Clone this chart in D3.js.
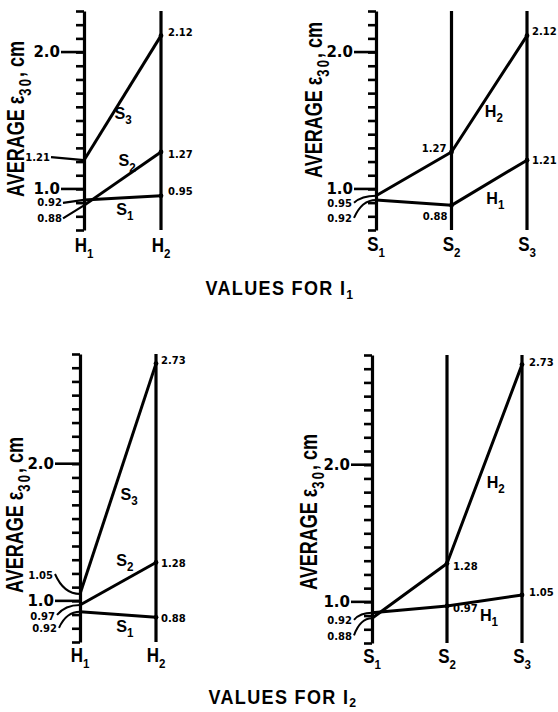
<!DOCTYPE html>
<html><head><meta charset="utf-8">
<script src="https://cdn.jsdelivr.net/npm/d3@7"></script>
<style>body{margin:0;background:#fff}svg{display:block}</style>
</head><body><svg id="c" width="558" height="712"></svg>
<script>
// ---------------- DATA ----------------
const hLevels = ["H1", "H2"];
const sLevels = ["S1", "S2", "S3"];
// values for I1 (each S series across H1, H2)
const i1_S1 = [0.92, 0.95];
const i1_S2 = [0.88, 1.27];
const i1_S3 = [1.21, 2.12];
// values for I2
const i2_S1 = [0.92, 0.88];
const i2_S2 = [0.97, 1.28];
const i2_S3 = [1.05, 2.73];
const majorTicks = [1.0, 2.0];
const groupTitles = ["I1", "I2"];
const yTitleMain = "AVERAGE";
const yTitleSym = "ε";
const yTitleSub = "30";
const yTitleUnit = "cm";

// ---------------- helpers ----------------
const svg = d3.select("#c");
const FONT = "'Liberation Sans', Arial, sans-serif";
const NUMFONT = "'DejaVu Sans', sans-serif";
const fmt2 = d3.format(".2f"), fmt1 = d3.format(".1f");
const transpose = m => m[0].map((_, j) => m.map(r => r[j]));
const parts = name => [{t: name[0]}, {t: name.slice(1), sub: true}];

function rich(parent, x, y, ps, o) {
  const size = o.size, sx = o.sx || 1;
  const g = parent.append("g")
    .attr("transform", `translate(${x},${y}) rotate(${o.rotate || 0}) scale(${sx},1)`);
  const t = g.append("text").attr("font-family", o.family || FONT)
    .attr("font-weight", "bold").attr("font-size", size).attr("fill", "#000");
  if (o.ls) t.attr("letter-spacing", o.ls);
  const drop = size * (o.subDrop || 0.3);
  let sub = false;
  ps.forEach(p => {
    const ts = t.append("tspan").text(p.t);
    if (p.ls != null) ts.attr("letter-spacing", p.ls);
    if (p.sub) {
      ts.attr("font-size", size * (o.subScale || 0.68));
      if (!sub) ts.attr("dy", drop);
      sub = true;
    } else if (sub) { ts.attr("dy", -drop); sub = false; }
  });
  const w = t.node().getComputedTextLength();
  if (o.anchor === "middle") t.attr("x", -w / 2);
  else if (o.anchor === "end") t.attr("x", -w);
  return w * sx;
}

// ---------------- panel layouts ----------------
const panels = [
  { cats: hLevels, names: sLevels, series: [i1_S1, i1_S2, i1_S3],
    xr: [84, 161], domain: [0.7, 2.3], range: [230, 11], majorDx: -24, majorSize: 15,
    title: {x: 24, y: 197},
    catY: 252,
    labels: [ // [series, cat, dx, dy, leader]
      [2, 0, -34, -3, "line"], [0, 0, -22, 3, "line"], [1, 0, -22, 13, "line"],
      [2, 1, 7, -3, null], [1, 1, 7, 2, null], [0, 1, 7, -4, null]],
    names_pos: [[0, 0.53, 0, 11], [1, 0.56, 0, -15], [2, 0.47, 3, 11]] },
  { cats: sLevels, names: hLevels, series: transpose([i1_S1, i1_S2, i1_S3]),
    xr: [376, 527], domain: [0.7, 2.3], range: [230, 11], majorDx: -23, majorSize: 15,
    title: {x: 322, y: 178},
    catY: 251,
    labels: [
      [1, 0, -24, 8, "curve"], [0, 0, -24, 19, "curve"],
      [1, 1, -5, -4, null], [0, 1, -4, 11, null],
      [1, 2, 5, -4, null], [0, 2, 5, 0, null]],
    names_pos: [[0, 1.58, 0, 19], [1, 1.35, 16, 0]] },
  { cats: hLevels, names: sLevels, series: [i2_S1, i2_S2, i2_S3],
    xr: [80, 156], domain: [0.7, 2.8], range: [642, 354], majorDx: -26, majorSize: 15,
    title: {x: 23, y: 593},
    catY: 662,
    labels: [
      [2, 0, -27, -19, "curve"], [1, 0, -25, 11, "curve"], [0, 0, -23, 17, "curve"],
      [2, 1, 5, -3, null], [1, 1, 5, 1, null], [0, 1, 5, 1, null]],
    names_pos: [[0, 0.59, 0, 11], [1, 0.59, 0, -20], [2, 0.436, 16, 0]] },
  { cats: sLevels, names: hLevels, series: transpose([i2_S1, i2_S2, i2_S3]),
    xr: [372, 522], domain: [0.7, 2.8], range: [643, 355], majorDx: -22, majorSize: 15,
    title: {x: 317, y: 590},
    catY: 663,
    labels: [
      [0, 0, -20, 8, "curve"], [1, 0, -20, 18, "curve"],
      [1, 1, 6, 3, null], [0, 1, 6, 2, null],
      [1, 2, 7, -2, null], [0, 2, 7, -3, null]],
    names_pos: [[0, 1.56, 0, 15], [1, 1.41, 18, 0]] }
];

function drawPanel(p) {
  const g = svg.append("g");
  const x = d3.scalePoint().domain(p.cats).range(p.xr);
  const y = d3.scaleLinear().domain(p.domain).range(p.range);
  const x0 = x(p.cats[0]);

  // left axis with minor ticks every 0.1
  const tv = d3.range(Math.round(p.domain[0] * 10), Math.round(p.domain[1] * 10) + 1).map(d => d / 10);
  const ax = d3.axisLeft(y).tickValues(tv).tickSize(8).tickSizeOuter(0).tickFormat("");
  const axg = g.append("g").attr("transform", `translate(${x0},0)`).call(ax);
  axg.select(".domain").attr("stroke", "#000").attr("stroke-width", 3.2);
  axg.selectAll(".tick line").attr("stroke", "#000").attr("stroke-width", 2.6);

  // other vertical axes
  p.cats.slice(1).forEach(c => g.append("line")
    .attr("x1", x(c)).attr("x2", x(c)).attr("y1", y(p.domain[0])).attr("y2", y(p.domain[1]))
    .attr("stroke", "#000").attr("stroke-width", 3.2));

  // major tick labels with long ticks
  majorTicks.forEach(v => {
    rich(g, x0 + p.majorDx, y(v) + p.majorSize * 0.36, [{t: fmt1(v)}],
      {size: p.majorSize, family: NUMFONT, anchor: "end"});
    g.append("line").attr("x1", x0 + p.majorDx + 1).attr("x2", x0).attr("y1", y(v)).attr("y2", y(v))
      .attr("stroke", "#000").attr("stroke-width", 2.6);
  });

  // series lines
  const line = d3.line().x((d, i) => x(p.cats[i])).y(d => y(d));
  p.series.forEach(s => g.append("path").attr("d", line(s)).attr("fill", "none")
    .attr("stroke", "#000").attr("stroke-width", 3).attr("stroke-linejoin", "round"));
  p.series.forEach(s => s.forEach((v, i) => {
    if (i > 0) g.append("circle").attr("cx", x(p.cats[i])).attr("cy", y(v)).attr("r", 2.4).attr("fill", "#000");
  }));

  // value labels
  const vs = 10;
  p.labels.forEach(([si, ci, dx, dy, leader]) => {
    const v = p.series[si][ci];
    const px = x(p.cats[ci]), py = y(v);
    const lx = px + dx, ly = py + dy;
    const anchor = dx < 0 ? "end" : "start";
    rich(g, lx, ly + vs * 0.36, [{t: fmt2(v)}], {size: vs, family: NUMFONT, anchor});
    if (leader === "line") {
      g.append("line").attr("x1", lx + 1).attr("y1", ly).attr("x2", px).attr("y2", py)
        .attr("stroke", "#000").attr("stroke-width", 2.2);
    } else if (leader === "curve") {
      const sx = lx + 2, sy = ly - 1;
      g.append("path").attr("d", `M${sx},${sy} Q${sx + (px - sx) * 0.35},${py} ${px},${py}`)
        .attr("fill", "none").attr("stroke", "#000").attr("stroke-width", 2);
    }
  });

  // series name labels placed along segments
  p.names_pos.forEach(([si, t, dx, dy]) => {
    const s = p.series[si];
    const k = Math.floor(t), f = t - k;
    const lx = x(p.cats[k]) + f * (x(p.cats[k + 1]) - x(p.cats[k]));
    const ly = y(s[k]) + f * (y(s[k + 1]) - y(s[k]));
    rich(g, lx + dx, ly + dy + 6, parts(p.names[si]), {size: 17, anchor: "middle", sx: 0.95, subScale: 0.72});
  });

  // category labels
  p.cats.forEach(c => rich(g, x(c), p.catY, parts(c), {size: 20, anchor: "middle", sx: 0.85}));

  // y-axis title
  rich(g, p.title.x, p.title.y,
    [{t: yTitleMain + "   " + yTitleSym}, {t: yTitleSub, sub: true, ls: 3}, {t: ",", ls: 0}, {t: "  " + yTitleUnit}],
    {size: 24, rotate: -90, sx: 0.75, subScale: 0.72});
}

panels.forEach(drawPanel);

// group titles
rich(svg, 280, 295, [{t: "VALUES FOR " + groupTitles[0][0]}, {t: groupTitles[0].slice(1), sub: true}],
  {size: 20, anchor: "middle", sx: 0.9, ls: 1.5, subDrop: 0.2});
rich(svg, 283, 704, [{t: "VALUES FOR " + groupTitles[1][0]}, {t: groupTitles[1].slice(1), sub: true}],
  {size: 20, anchor: "middle", sx: 0.9, ls: 1.5, subDrop: 0.15});
</script>
</body></html>
